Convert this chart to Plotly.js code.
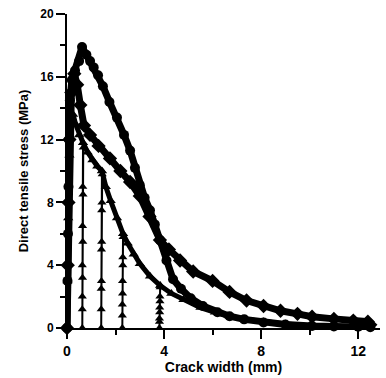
<!DOCTYPE html>
<html>
<head>
<meta charset="utf-8">
<script src="https://cdn.plot.ly/plotly-3.0.1.min.js"></script>
<style>html,body{margin:0;padding:0;background:#fff;}#chart{width:386px;height:378px;}</style>
</head>
<body>
<div id="chart"></div>
<script>
// Series 1: circles
const circX = [0, 0.02, 0.04, 0.06, 0.08, 0.12, 0.2, 0.33, 0.5, 0.62, 0.8, 0.95, 1.1, 1.28, 1.48, 1.75, 2.06, 2.35, 2.6, 2.8, 3.0, 3.2, 3.42, 3.62, 3.83, 4.1, 4.37, 4.7, 5.1, 5.6, 6.2, 6.7, 7.3, 8.1, 9.0, 10.1, 11.0, 12.0, 12.5];
const circY = [0, 3, 6, 9, 12, 14.5, 15.8, 16.4, 17.0, 17.9, 17.4, 17.0, 16.6, 16.1, 15.4, 14.4, 13.4, 12.3, 11.3, 10.2, 9.1, 8.3, 7.5, 6.6, 5.6, 4.3, 3.1, 2.5, 1.9, 1.4, 1.0, 0.75, 0.55, 0.35, 0.22, 0.13, 0.1, 0.08, 0.05];
// Series 2: diamonds
const diaX = [0, 0.03, 0.06, 0.1, 0.18, 0.3, 0.42, 0.55, 0.7, 0.95, 1.3, 1.77, 2.2, 2.6, 3.0, 3.4, 3.83, 4.2, 4.66, 5.2, 6.0, 6.7, 7.4, 8.1, 8.8, 9.5, 10.1, 11.0, 11.8, 12.4, 12.5];
const diaY = [0, 4, 8, 12, 15.0, 16.2, 15.5, 14.2, 12.9, 12.3, 11.6, 10.8, 10.0, 9.3, 8.4, 7.1, 5.6, 5.0, 4.3, 3.6, 3.0, 2.3, 1.75, 1.4, 1.1, 0.9, 0.72, 0.58, 0.47, 0.4, 0.2];
// Series 3: triangles (envelope)
const triX = [0, 0.02, 0.05, 0.1, 0.18, 0.25, 0.35, 0.5, 0.66, 0.85, 1.05, 1.25, 1.44, 1.6, 1.8, 2.06, 2.31, 2.5, 2.75, 3.0, 3.42, 3.84, 4.3, 4.8, 5.5, 6.1, 6.7, 7.4, 8.1, 9.0, 10.0, 11.0, 12.0, 12.5];
const triY = [0, 3, 7, 11, 13.0, 13.6, 13.0, 12.3, 11.8, 11.2, 10.7, 10.3, 10.0, 9.0, 8.1, 7.0, 6.0, 5.4, 4.7, 4.1, 3.3, 2.7, 2.2, 1.8, 1.3, 1.0, 0.75, 0.55, 0.4, 0.25, 0.15, 0.1, 0.06, 0.04];
// Triangle series unloading/reloading cycles
const cyc1X = [0.66, 0.65, 0.64, 0.63, 0.63, 0.63, 0.63, 0.64, 0.65, 0.66, 0.67];
const cyc1Y = [11.8, 9.0, 6.5, 4.0, 2.0, 0, 1.2, 3.2, 5.5, 8.5, 11.5];
const cyc2X = [1.44, 1.43, 1.42, 1.41, 1.41, 1.41, 1.42, 1.43, 1.44, 1.45];
const cyc2Y = [10.0, 7.5, 5.0, 2.5, 0, 1.2, 3.0, 5.5, 8.0, 9.8];
const cyc3X = [2.31, 2.30, 2.29, 2.28, 2.28, 2.28, 2.29, 2.30, 2.31];
const cyc3Y = [6.0, 4.5, 3.0, 1.5, 0, 0.8, 2.2, 4.0, 5.8];
const cyc4X = [3.84, 3.83, 3.82, 3.81, 3.81, 3.81, 3.82, 3.83, 3.84];
const cyc4Y = [2.7, 2.0, 1.3, 0.6, 0, 0.4, 1.0, 1.7, 2.6];

const cycles = [[cyc1X, cyc1Y], [cyc2X, cyc2Y], [cyc3X, cyc3Y], [cyc4X, cyc4Y]];
const cx = [], cy = [];
cycles.forEach(c => { cx.push(...c[0], null); cy.push(...c[1], null); });

const black = '#000';
const traces = [
  {x: cx, y: cy, type: 'scatter', mode: 'lines+markers', cliponaxis: false,
   line: {color: black, width: 2}, marker: {symbol: 'triangle-up', size: 8, color: black}, connectgaps: false},
  {x: triX, y: triY, type: 'scatter', mode: 'lines+markers', cliponaxis: false,
   line: {color: black, width: 5}, marker: {symbol: 'triangle-up', size: 9, color: black}},
  {x: diaX, y: diaY, type: 'scatter', mode: 'lines+markers', cliponaxis: false,
   line: {color: black, width: 7}, marker: {symbol: 'diamond', size: 11, color: black}},
  {x: circX, y: circY, type: 'scatter', mode: 'lines+markers', cliponaxis: false,
   line: {color: black, width: 7}, marker: {symbol: 'circle', size: 10, color: black}}
];

const fam = 'Liberation Sans, Arial, sans-serif';
const layout = {
  width: 386, height: 378,
  margin: {l: 67, r: 6, t: 14, b: 50},
  paper_bgcolor: '#fff', plot_bgcolor: '#fff',
  showlegend: false,
  font: {family: fam, color: black, weight: 'bold'},
  xaxis: {
    range: [0, 12.9], tickmode: 'linear', tick0: 0, dtick: 4,
    showgrid: false, zeroline: false, showline: true, linecolor: black, linewidth: 2,
    ticks: 'outside', ticklen: 9, tickwidth: 2, tickcolor: black,
    minor: {dtick: 2, tick0: 0, ticks: 'outside', ticklen: 5, tickwidth: 2, tickcolor: black, showgrid: false},
    tickfont: {family: fam, size: 14, weight: 'bold', color: black},
    title: {text: 'Crack width (mm)', font: {family: fam, size: 14, weight: 'bold', color: black}, standoff: 4}
  },
  yaxis: {
    range: [0, 20], tickmode: 'linear', tick0: 0, dtick: 4,
    showgrid: false, zeroline: false, showline: true, linecolor: black, linewidth: 2,
    ticks: 'outside', ticklen: 9, tickwidth: 2, tickcolor: black,
    minor: {dtick: 2, tick0: 0, ticks: 'outside', ticklen: 5, tickwidth: 2, tickcolor: black, showgrid: false},
    tickfont: {family: fam, size: 12, weight: 'bold', color: black},
    title: {text: 'Direct tensile stress (MPa)', font: {family: fam, size: 13, weight: 'bold', color: black}, standoff: 9}
  }
};
Plotly.newPlot('chart', traces, layout, {staticPlot: true, displayModeBar: false});
</script>
</body>
</html>
